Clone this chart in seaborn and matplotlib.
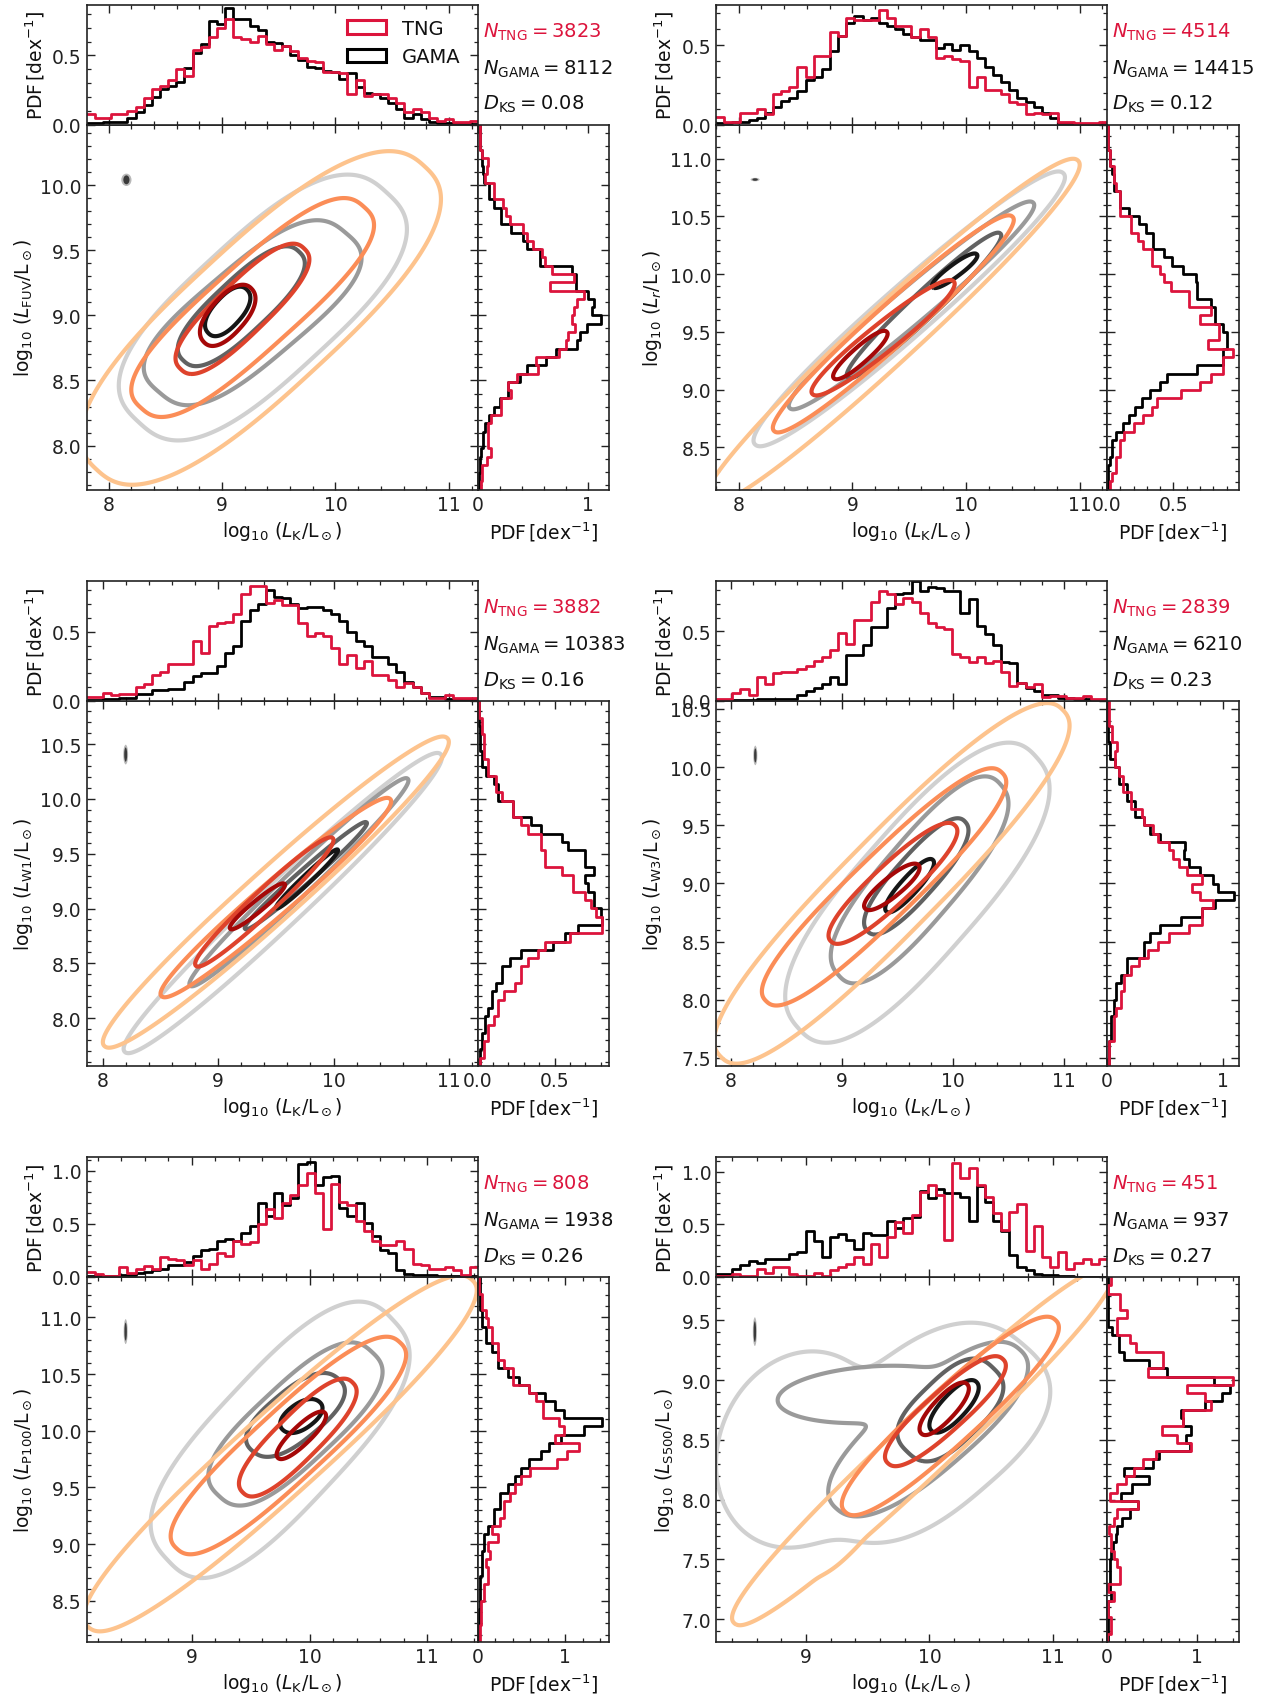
import numpy as np
import pandas as pd
import matplotlib
matplotlib.use("Agg")
import matplotlib.pyplot as plt
from matplotlib.patches import Ellipse, Patch
from matplotlib.ticker import MultipleLocator
import seaborn as sns

# ---------------------------------------------------------------- data
N_TNG = [3823, 4514, 3882, 2839, 808, 451]
N_GAMA = [8112, 14415, 10383, 6210, 1938, 937]
D_KS = ["0.08", "0.12", "0.16", "0.23", "0.26", "0.27"]
BANDS = [r"\rm FUV", r"r", r"\rm W1", r"\rm W3", r"\rm P100", r"\rm S500"]

# axis ranges (log10 L_K, log10 L_band) and PDF maxima
XLIMS = [(7.807, 11.254), (7.80, 11.24), (7.86, 11.25), (7.867, 11.387), (8.107, 11.428), (8.27, 11.44)]
YLIMS = [(7.662, 10.463), (8.134, 11.295), (7.563, 10.894), (7.43, 10.568), (8.136, 11.357), (6.81, 9.862)]
TOP_YMAX = [0.866, 0.754, 0.866, 0.863, 1.13, 1.14]
RIGHT_XMAX = [1.19, 0.99, 0.856, 1.133, 1.5, 1.456]
RIGHT_MAJOR = [1.0, 0.5, 0.5, 1.0, 1.0, 1.0]
RIGHT_MINOR = [0.2, 0.1, 0.1, 0.2, 0.2, 0.2]

# top histograms: PDF per bin, bins spanning the x range (low -> high L_K)
P1_TOP_GAMA = [0.01, 0.01, 0.02, 0.02, 0.02, 0.05, 0.09, 0.14, 0.2, 0.26, 0.28, 0.31, 0.41, 0.52, 0.58, 0.75, 0.73, 0.84, 0.76, 0.76, 0.71, 0.68, 0.6, 0.59, 0.57, 0.5, 0.47, 0.42, 0.41, 0.39, 0.38, 0.33, 0.37, 0.27, 0.23, 0.22, 0.19, 0.16, 0.11, 0.05, 0.08, 0.04, 0.02, 0.01, 0.01, 0.01, 0.005, 0.005]
P1_TOP_TNG = [0.08, 0.05, 0.05, 0.08, 0.08, 0.1, 0.13, 0.19, 0.26, 0.28, 0.32, 0.4, 0.35, 0.54, 0.56, 0.63, 0.7, 0.76, 0.63, 0.62, 0.6, 0.64, 0.58, 0.54, 0.57, 0.53, 0.48, 0.46, 0.45, 0.38, 0.38, 0.37, 0.22, 0.32, 0.21, 0.22, 0.22, 0.19, 0.16, 0.09, 0.11, 0.09, 0.05, 0.03, 0.04, 0.02, 0.02, 0.03]
P2_TOP_GAMA = [0.01, 0.01, 0.02, 0.02, 0.03, 0.04, 0.075, 0.11, 0.15, 0.17, 0.21, 0.28, 0.3, 0.35, 0.46, 0.56, 0.64, 0.68, 0.66, 0.67, 0.64, 0.62, 0.6, 0.57, 0.55, 0.53, 0.53, 0.48, 0.51, 0.47, 0.5, 0.46, 0.42, 0.36, 0.31, 0.27, 0.22, 0.17, 0.14, 0.11, 0.075, 0.04, 0.013, 0.013, 0.005, 0.005, 0.005, 0.005]
P2_TOP_TNG = [0.05, 0.02, 0.02, 0.075, 0.075, 0.1, 0.065, 0.19, 0.21, 0.24, 0.36, 0.3, 0.43, 0.43, 0.58, 0.56, 0.67, 0.66, 0.66, 0.66, 0.72, 0.67, 0.62, 0.62, 0.55, 0.6, 0.55, 0.42, 0.43, 0.41, 0.4, 0.24, 0.3, 0.22, 0.22, 0.19, 0.14, 0.13, 0.065, 0.075, 0.065, 0.075, 0.02, 0.02, 0.013, 0.013, 0.013, 0.02]
P3_TOP_GAMA = [0.005, 0.005, 0.013, 0.013, 0.025, 0.025, 0.05, 0.05, 0.076, 0.076, 0.09, 0.09, 0.14, 0.18, 0.2, 0.2, 0.25, 0.35, 0.4, 0.58, 0.66, 0.7, 0.8, 0.75, 0.74, 0.7, 0.67, 0.68, 0.68, 0.66, 0.63, 0.58, 0.5, 0.43, 0.4, 0.32, 0.32, 0.27, 0.21, 0.14, 0.1, 0.06, 0.03, 0.03, 0.015, 0.015, 0.008, 0.008]
P3_TOP_TNG = [0.03, 0.03, 0.055, 0.04, 0.05, 0.05, 0.1, 0.12, 0.19, 0.21, 0.27, 0.27, 0.27, 0.43, 0.35, 0.54, 0.56, 0.57, 0.63, 0.77, 0.83, 0.83, 0.71, 0.73, 0.69, 0.69, 0.56, 0.47, 0.49, 0.47, 0.38, 0.27, 0.33, 0.24, 0.29, 0.19, 0.19, 0.15, 0.1, 0.13, 0.1, 0.06, 0.025, 0.025, 0.04, 0.02, 0.02, 0.025]
P4_TOP_GAMA = [0.005, 0.005, 0.005, 0.005, 0.005, 0.016, 0.016, 0.016, 0.016, 0.016, 0.04, 0.07, 0.095, 0.12, 0.17, 0.12, 0.33, 0.33, 0.4, 0.53, 0.53, 0.67, 0.77, 0.78, 0.86, 0.79, 0.82, 0.81, 0.79, 0.79, 0.63, 0.73, 0.54, 0.48, 0.4, 0.28, 0.27, 0.13, 0.095, 0.07, 0.04, 0.04, 0.021, 0.021, 0.016, 0.016, 0.01, 0.01]
P4_TOP_TNG = [0.016, 0.016, 0.055, 0.087, 0.04, 0.17, 0.12, 0.2, 0.21, 0.21, 0.23, 0.25, 0.29, 0.32, 0.37, 0.49, 0.41, 0.58, 0.58, 0.71, 0.79, 0.77, 0.7, 0.74, 0.71, 0.63, 0.56, 0.53, 0.52, 0.34, 0.32, 0.28, 0.32, 0.27, 0.29, 0.21, 0.11, 0.13, 0.1, 0.12, 0.03, 0.037, 0.037, 0.021, 0.021, 0.034, 0.016, 0.016]
P5_TOP_GAMA = [0.01, 0.01, 0.01, 0.01, 0.018, 0.018, 0.033, 0.05, 0.064, 0.08, 0.11, 0.11, 0.14, 0.2, 0.25, 0.26, 0.34, 0.36, 0.34, 0.41, 0.48, 0.7, 0.57, 0.79, 0.68, 0.74, 1.06, 1.08, 0.87, 0.94, 0.95, 0.65, 0.57, 0.7, 0.51, 0.39, 0.25, 0.23, 0.07, 0.027, 0.018, 0.018, 0.018, 0.01, 0.01, 0.01, 0.01, 0.01]
P5_TOP_TNG = [0.05, 0.027, 0.01, 0.01, 0.09, 0.033, 0.08, 0.1, 0.08, 0.19, 0.17, 0.16, 0.11, 0.16, 0.08, 0.125, 0.23, 0.2, 0.34, 0.31, 0.33, 0.5, 0.64, 0.56, 0.7, 0.77, 0.87, 0.98, 0.79, 0.45, 0.88, 0.71, 0.68, 0.53, 0.43, 0.34, 0.3, 0.3, 0.34, 0.26, 0.125, 0.11, 0.08, 0.08, 0.09, 0.064, 0.018, 0.095]
P6_TOP_GAMA = [0.027, 0.027, 0.08, 0.11, 0.15, 0.13, 0.17, 0.17, 0.17, 0.22, 0.235, 0.44, 0.34, 0.19, 0.38, 0.41, 0.35, 0.27, 0.42, 0.4, 0.4, 0.53, 0.47, 0.56, 0.57, 0.82, 0.75, 0.84, 0.8, 0.8, 0.76, 0.53, 0.86, 0.71, 0.53, 0.44, 0.21, 0.095, 0.07, 0.027, 0.015, 0.015, 0.008, 0.008, 0.003, 0.003, 0.003, 0.003]
P6_TOP_TNG = [0.008, 0.008, 0.03, 0.008, 0.008, 0.08, 0.04, 0.095, 0.095, 0.03, 0.008, 0.008, 0.04, 0.008, 0.064, 0.095, 0.126, 0.19, 0.126, 0.31, 0.19, 0.38, 0.52, 0.42, 0.59, 0.81, 0.87, 0.78, 0.35, 1.08, 0.94, 1.04, 0.87, 0.76, 0.61, 0.45, 0.62, 0.69, 0.25, 0.48, 0.19, 0.095, 0.235, 0.08, 0.13, 0.17, 0.126, 0.17]

# right histograms: PDF per bin, listed from the top of the y range downwards
P1_RIGHT_GAMA = [0.02, 0.02, 0.02, 0.04, 0.04, 0.05, 0.06, 0.1, 0.1, 0.15, 0.21, 0.21, 0.3, 0.41, 0.45, 0.56, 0.56, 0.85, 0.89, 0.89, 1.0, 1.05, 1.03, 1.12, 0.99, 0.93, 0.9, 0.71, 0.62, 0.45, 0.38, 0.27, 0.27, 0.2, 0.15, 0.1, 0.07, 0.05, 0.05, 0.03, 0.02, 0.02, 0.01, 0.01]
P1_RIGHT_TNG = [0.02, 0.02, 0.02, 0.04, 0.09, 0.08, 0.07, 0.15, 0.15, 0.23, 0.26, 0.29, 0.41, 0.45, 0.5, 0.58, 0.61, 0.67, 0.87, 0.65, 0.96, 0.9, 0.87, 0.85, 0.88, 0.82, 0.8, 0.74, 0.53, 0.55, 0.36, 0.27, 0.3, 0.21, 0.21, 0.12, 0.09, 0.09, 0.09, 0.12, 0.08, 0.04, 0.04, 0.03]
P2_RIGHT_GAMA = [0.005, 0.005, 0.005, 0.025, 0.025, 0.04, 0.055, 0.055, 0.1, 0.1, 0.165, 0.24, 0.29, 0.35, 0.35, 0.43, 0.49, 0.57, 0.67, 0.68, 0.68, 0.78, 0.81, 0.81, 0.87, 0.9, 0.9, 0.87, 0.87, 0.68, 0.45, 0.4, 0.32, 0.26, 0.21, 0.165, 0.12, 0.07, 0.04, 0.04, 0.025, 0.01, 0.01, 0.01]
P2_RIGHT_TNG = [0.01, 0.01, 0.01, 0.025, 0.025, 0.055, 0.055, 0.07, 0.1, 0.1, 0.1, 0.18, 0.18, 0.23, 0.27, 0.34, 0.34, 0.4, 0.43, 0.48, 0.62, 0.62, 0.78, 0.7, 0.84, 0.84, 0.76, 0.95, 0.87, 0.87, 0.78, 0.7, 0.56, 0.38, 0.34, 0.27, 0.2, 0.13, 0.1, 0.1, 0.07, 0.07, 0.04, 0.025]
P3_RIGHT_GAMA = [0.008, 0.008, 0.008, 0.013, 0.013, 0.013, 0.027, 0.027, 0.053, 0.106, 0.13, 0.13, 0.23, 0.23, 0.35, 0.41, 0.55, 0.59, 0.7, 0.7, 0.76, 0.7, 0.72, 0.76, 0.76, 0.8, 0.81, 0.65, 0.57, 0.49, 0.28, 0.21, 0.16, 0.16, 0.12, 0.093, 0.093, 0.066, 0.045, 0.045, 0.027, 0.027, 0.013, 0.013]
P3_RIGHT_TNG = [0.008, 0.008, 0.027, 0.027, 0.04, 0.04, 0.04, 0.066, 0.066, 0.12, 0.12, 0.16, 0.23, 0.23, 0.28, 0.33, 0.41, 0.41, 0.44, 0.44, 0.55, 0.62, 0.62, 0.7, 0.74, 0.77, 0.81, 0.81, 0.6, 0.44, 0.39, 0.33, 0.28, 0.28, 0.24, 0.17, 0.13, 0.13, 0.106, 0.066, 0.066, 0.04, 0.04, 0.013]
P4_RIGHT_GAMA = [0.01, 0.01, 0.01, 0.01, 0.01, 0.03, 0.03, 0.065, 0.1, 0.1, 0.17, 0.17, 0.24, 0.24, 0.32, 0.37, 0.46, 0.67, 0.66, 0.71, 0.8, 0.91, 0.96, 1.09, 0.93, 0.82, 0.64, 0.46, 0.37, 0.32, 0.32, 0.17, 0.17, 0.12, 0.08, 0.08, 0.057, 0.057, 0.036, 0.036, 0.036, 0.014, 0.014, 0.014]
P4_RIGHT_TNG = [0.014, 0.014, 0.014, 0.047, 0.047, 0.09, 0.065, 0.065, 0.1, 0.136, 0.136, 0.21, 0.21, 0.3, 0.32, 0.4, 0.44, 0.53, 0.57, 0.62, 0.69, 0.82, 0.73, 0.8, 0.91, 0.82, 0.82, 0.71, 0.53, 0.44, 0.35, 0.28, 0.21, 0.15, 0.15, 0.12, 0.12, 0.08, 0.057, 0.057, 0.057, 0.02, 0.02, 0.02]
P5_RIGHT_GAMA = [0.023, 0.023, 0.023, 0.023, 0.047, 0.047, 0.093, 0.093, 0.16, 0.23, 0.23, 0.35, 0.47, 0.58, 0.77, 0.88, 0.98, 1.42, 1.21, 0.95, 0.81, 0.72, 0.58, 0.49, 0.42, 0.35, 0.26, 0.26, 0.19, 0.19, 0.12, 0.07, 0.07, 0.047, 0.047, 0.047, 0.023, 0.023, 0.023, 0.023, 0.014, 0.014, 0.014, 0.014]
P5_RIGHT_TNG = [0.014, 0.014, 0.047, 0.047, 0.093, 0.12, 0.16, 0.16, 0.23, 0.23, 0.3, 0.4, 0.4, 0.58, 0.67, 0.74, 0.74, 0.93, 0.98, 0.88, 1.16, 1.02, 0.91, 0.6, 0.49, 0.42, 0.37, 0.3, 0.3, 0.26, 0.16, 0.23, 0.12, 0.14, 0.093, 0.12, 0.12, 0.07, 0.07, 0.037, 0.037, 0.037, 0.023, 0.023]
P6_RIGHT_GAMA = [0.011, 0.011, 0.011, 0.011, 0.011, 0.011, 0.06, 0.134, 0.134, 0.19, 0.47, 0.66, 1.18, 1.36, 1.27, 1.08, 0.82, 0.84, 0.93, 0.88, 0.92, 0.58, 0.51, 0.19, 0.47, 0.28, 0.15, 0.34, 0.26, 0.17, 0.115, 0.097, 0.07, 0.048, 0.034, 0.034, 0.034, 0.034, 0.04, 0.011, 0.011, 0.011, 0.011, 0.011]
P6_RIGHT_TNG = [0.04, 0.011, 0.145, 0.145, 0.22, 0.115, 0.115, 0.26, 0.32, 0.62, 0.62, 0.45, 1.4, 0.89, 1.08, 1.15, 0.84, 0.84, 0.61, 0.77, 0.935, 0.54, 0.4, 0.3, 0.21, 0.108, 0.034, 0.34, 0.108, 0.078, 0.022, 0.048, 0.048, 0.078, 0.108, 0.145, 0.145, 0.011, 0.078, 0.011, 0.011, 0.04, 0.04, 0.004]

# density contours, read as
# (level, x centre, y centre, x half-extent, y half-extent, tilt/correlation, squareness)
# level 0 = outermost ... 3 = innermost; several entries at one level form one outline
P1_GAMA_CONT = [(0, 9.36, 9.06, 1.27, 1.02, 0.70, 2.8), (1, 9.27, 9.02, 0.96, 0.71, 0.72, 3.0), (2, 9.17, 9.07, 0.56, 0.46, 0.80, 2.6), (3, 9.05, 9.03, 0.20, 0.19, 0.60, 2.3)]
P1_TNG_CONT = [(0, 9.34, 8.98, 1.59, 1.28, 0.80, 2.6), (1, 9.27, 9.06, 1.07, 0.84, 0.85, 2.8), (2, 9.18, 9.05, 0.59, 0.50, 0.84, 2.6), (3, 9.05, 9.00, 0.245, 0.235, 0.60, 2.3)]
P2_GAMA_CONT = [(0, 9.50, 9.70, 1.37, 1.19, 0.97, 2.2), (1, 9.52, 9.73, 1.08, 0.90, 0.975, 2.2), (2, 9.63, 9.73, 0.68, 0.63, 0.97, 2.2), (3, 9.90, 10.03, 0.20, 0.15, 0.90, 2.2)]
P2_TNG_CONT = [(0, 9.35, 9.50, 1.65, 1.50, 0.975, 2.2), (1, 9.36, 9.57, 1.06, 0.94, 0.97, 2.2), (2, 9.27, 9.45, 0.63, 0.50, 0.95, 2.2), (3, 9.07, 9.30, 0.24, 0.21, 0.90, 2.2)]
P3_GAMA_CONT = [(0, 9.56, 9.05, 1.38, 1.37, 0.98, 2.2), (1, 9.70, 9.24, 0.95, 0.95, 0.985, 2.2), (2, 9.76, 9.30, 0.53, 0.49, 0.985, 2.2), (3, 9.77, 9.27, 0.27, 0.27, 0.98, 2.2)]
P3_TNG_CONT = [(0, 9.50, 9.15, 1.50, 1.42, 0.975, 2.2), (1, 9.50, 9.10, 1.00, 0.91, 0.975, 2.2), (2, 9.40, 9.06, 0.60, 0.59, 0.97, 2.2), (3, 9.34, 9.02, 0.24, 0.21, 0.95, 2.2)]
P4_GAMA_CONT = [(0, 9.68, 8.92, 1.19, 1.29, 0.78, 2.6), (1, 9.70, 9.03, 0.80, 0.89, 0.82, 2.6), (2, 9.67, 9.06, 0.47, 0.50, 0.85, 2.4), (3, 9.61, 8.98, 0.22, 0.23, 0.88, 2.2)]
P4_TNG_CONT = [(0, 9.45, 9.00, 1.60, 1.55, 0.925, 2.5), (1, 9.38, 8.97, 1.10, 1.02, 0.93, 2.5), (2, 9.46, 9.00, 0.58, 0.52, 0.90, 2.3), (3, 9.45, 8.97, 0.25, 0.20, 0.85, 2.2)]
P5_GAMA_CONT = [(0, 9.75, 9.92, 1.10, 1.22, 0.72, 2.8), (1, 9.88, 10.06, 0.74, 0.72, 0.75, 2.8), (2, 9.88, 10.14, 0.42, 0.37, 0.65, 2.5), (3, 9.93, 10.13, 0.18, 0.15, 0.50, 2.2)]
P5_TNG_CONT = [(0, 9.75, 9.80, 1.67, 1.57, 0.95, 2.4), (1, 9.82, 9.87, 1.00, 0.96, 0.90, 2.6), (2, 9.90, 9.94, 0.50, 0.52, 0.85, 2.5), (3, 9.93, 9.96, 0.21, 0.21, 0.85, 2.2)]
P6_GAMA_CONT = [(0, 9.95, 8.56, 1.03, 0.92, 0.45, 2.6), (0, 8.95, 8.42, 0.68, 0.82, 0.15, 2.0),
                (1, 9.99, 8.59, 0.81, 0.73, 0.78, 2.4), (1, 9.55, 8.88, 0.78, 0.24, 0.20, 2.0),
                (2, 10.17, 8.75, 0.43, 0.43, 0.55, 2.8), (3, 10.20, 8.78, 0.20, 0.22, 0.75, 2.2)]
P6_TNG_CONT = [(0, 9.95, 8.45, 1.55, 1.50, 0.975, 2.3), (0, 9.28, 7.58, 0.19, 0.19, 0.85, 2.2),
               (1, 10.17, 8.70, 0.88, 0.83, 0.93, 2.4), (2, 10.13, 8.74, 0.49, 0.46, 0.88, 2.4), (3, 10.12, 8.76, 0.20, 0.22, 0.80, 2.2)]

# typical uncertainty ellipse per panel: centre x, centre y, full width, full height
ERR_X = [8.157, 8.144, 8.198, 8.221, 8.438, 8.585]
ERR_Y = [10.04, 10.82, 10.405, 10.10, 10.875, 9.405]
ERR_W = [0.09, 0.079, 0.042, 0.037, 0.034, 0.033]
ERR_H = [0.095, 0.03, 0.18, 0.168, 0.22, 0.24]

TOP_GAMA = [P1_TOP_GAMA, P2_TOP_GAMA, P3_TOP_GAMA, P4_TOP_GAMA, P5_TOP_GAMA, P6_TOP_GAMA]
TOP_TNG = [P1_TOP_TNG, P2_TOP_TNG, P3_TOP_TNG, P4_TOP_TNG, P5_TOP_TNG, P6_TOP_TNG]
RIGHT_GAMA = [P1_RIGHT_GAMA, P2_RIGHT_GAMA, P3_RIGHT_GAMA, P4_RIGHT_GAMA, P5_RIGHT_GAMA, P6_RIGHT_GAMA]
RIGHT_TNG = [P1_RIGHT_TNG, P2_RIGHT_TNG, P3_RIGHT_TNG, P4_RIGHT_TNG, P5_RIGHT_TNG, P6_RIGHT_TNG]
CONT_GAMA = [P1_GAMA_CONT, P2_GAMA_CONT, P3_GAMA_CONT, P4_GAMA_CONT, P5_GAMA_CONT, P6_GAMA_CONT]
CONT_TNG = [P1_TNG_CONT, P2_TNG_CONT, P3_TNG_CONT, P4_TNG_CONT, P5_TNG_CONT, P6_TNG_CONT]

# ---------------------------------------------------------------- style
TNG_COLOR = "#dc143c"
GAMA_COLOR = "black"
TNG_LEVEL_COLORS = ["#fdc38d", "#fb8d57", "#de432c", "#a50808"]
GAMA_LEVEL_COLORS = ["#d0d0d0", "#9a9a9a", "#626262", "#161616"]

sns.set_theme(style="ticks")
plt.rcParams["font.family"] = ["DejaVu Sans"]
plt.rcParams.update({
    "mathtext.fontset": "dejavusans",
    "xtick.direction": "in", "ytick.direction": "in",
    "xtick.top": True, "ytick.right": True,
    "xtick.minor.visible": True, "ytick.minor.visible": True,
    "xtick.major.size": 5.5, "ytick.major.size": 5.5,
    "xtick.minor.size": 3.0, "ytick.minor.size": 3.0,
    "xtick.major.width": 1.0, "ytick.major.width": 1.0,
    "xtick.minor.width": 0.9, "ytick.minor.width": 0.9,
    "xtick.color": "#222222", "ytick.color": "#222222",
    "axes.edgecolor": "#222222", "axes.linewidth": 1.2,
    "xtick.labelsize": 13.5, "ytick.labelsize": 13.5,
    "axes.labelsize": 13.5, "text.color": "#111111", "axes.labelcolor": "#111111",
})

W, H = 1276, 1699
fig = plt.figure(figsize=(W / 100, H / 100), dpi=100)

COL_LEFT = [86.7, 716.0]
MAIN_BOTTOM = [490.7, 1067.0, 1643.0]
MAIN_W, MAIN_H, TOP_H, RIGHT_W = 391.0, 365.0, 120.0, 131.5
SOFT_UNION = 0.25

PDF_LABEL = r"PDF$\,[\mathrm{dex}^{-1}]$"
XLABEL = r"$\log_{10}\,(L_{\rm K}/{\rm L}_\odot)$"


def outline_field(X, Y, cx, cy, hx, hy, r, p):
    """Rounded outline whose bounding box is cx +- hx, cy +- hy."""
    a, b = np.sqrt(1 + r), np.sqrt(1 - r)
    th = np.linspace(0, 2 * np.pi, 4001)
    c, s_ = np.cos(th), np.sin(th)
    ss = a * np.sign(c) * np.abs(c) ** (2.0 / p)
    tt = b * np.sign(s_) * np.abs(s_) ** (2.0 / p)
    k = np.max((ss - tt) / np.sqrt(2))
    u = (X - cx) / hx * k
    v = (Y - cy) / hy * k
    S = (u + v) / np.sqrt(2)
    T = (v - u) / np.sqrt(2)
    return (np.abs(S) / a) ** p + (np.abs(T) / b) ** p


def draw_contours(ax, pieces, colors, xlim, ylim):
    xs = np.linspace(xlim[0] - 0.6, xlim[1] + 0.6, 560)
    ys = np.linspace(ylim[0] - 0.6, ylim[1] + 0.6, 560)
    X, Y = np.meshgrid(xs, ys)
    for lev in range(4):
        fields = [outline_field(X, Y, cx, cy, hx, hy, r, p)
                  for (l, cx, cy, hx, hy, r, p) in pieces if l == lev]
        if len(fields) == 1:
            F = fields[0]
        else:
            st = np.array(fields)
            m = st.min(axis=0)
            F = m - SOFT_UNION * np.log(np.exp(-(st - m) / SOFT_UNION).sum(axis=0))
        ax.contour(X, Y, F, levels=[1.0], colors=[colors[lev]], linewidths=3.0)


def hist_top(ax, vals, xlim, color):
    vals = np.asarray(vals, dtype=float)
    edges = np.linspace(xlim[0], xlim[1], len(vals) + 1)
    df = pd.DataFrame({"v": 0.5 * (edges[1:] + edges[:-1]), "w": vals})
    sns.histplot(data=df, x="v", weights="w", bins=len(vals), binrange=xlim,
                 element="step", fill=False, color=color, linewidth=2.0, ax=ax)


def hist_right(ax, vals_top_down, ylim, color):
    vals = np.asarray(vals_top_down, dtype=float)[::-1]
    edges = np.linspace(ylim[0], ylim[1], len(vals) + 1)
    df = pd.DataFrame({"v": 0.5 * (edges[1:] + edges[:-1]), "w": vals})
    sns.histplot(data=df, y="v", weights="w", bins=len(vals), binrange=ylim,
                 element="step", fill=False, color=color, linewidth=2.0, ax=ax)


for i in range(6):
    r, c = divmod(i, 2)
    left = COL_LEFT[c] / W
    bottom = 1 - MAIN_BOTTOM[r] / H
    ax = fig.add_axes([left, bottom, MAIN_W / W, MAIN_H / H])
    axt = fig.add_axes([left, bottom + MAIN_H / H, MAIN_W / W, TOP_H / H])
    axr = fig.add_axes([left + MAIN_W / W, bottom, RIGHT_W / W, MAIN_H / H])
    xlim, ylim = XLIMS[i], YLIMS[i]

    # main panel
    draw_contours(ax, CONT_GAMA[i], GAMA_LEVEL_COLORS, xlim, ylim)
    draw_contours(ax, CONT_TNG[i], TNG_LEVEL_COLORS, xlim, ylim)
    ax.add_patch(Ellipse((ERR_X[i], ERR_Y[i]), ERR_W[i], ERR_H[i], facecolor="#b8b8b8",
                         edgecolor="none", zorder=5))
    ax.add_patch(Ellipse((ERR_X[i], ERR_Y[i]), ERR_W[i] * 0.6, ERR_H[i] * 0.72,
                         facecolor="#3a3a3a", edgecolor="none", zorder=6))
    ax.set_xlim(*xlim)
    ax.set_ylim(*ylim)
    ax.xaxis.set_major_locator(MultipleLocator(1.0))
    ax.xaxis.set_minor_locator(MultipleLocator(0.2))
    ax.yaxis.set_major_locator(MultipleLocator(0.5))
    ax.yaxis.set_minor_locator(MultipleLocator(0.1))
    ax.set_xlabel(XLABEL)
    ax.set_ylabel(r"$\log_{10}\,(L_{%s}/{\rm L}_\odot)$" % BANDS[i])

    # top marginal
    hist_top(axt, TOP_GAMA[i], xlim, GAMA_COLOR)
    hist_top(axt, TOP_TNG[i], xlim, TNG_COLOR)
    axt.set_xlim(*xlim)
    axt.set_ylim(0, TOP_YMAX[i])
    axt.xaxis.set_major_locator(MultipleLocator(1.0))
    axt.xaxis.set_minor_locator(MultipleLocator(0.2))
    axt.yaxis.set_major_locator(MultipleLocator(0.5))
    axt.yaxis.set_minor_locator(MultipleLocator(0.1))
    axt.tick_params(labelbottom=False)
    axt.set_xlabel("")
    axt.set_ylabel(PDF_LABEL)

    # right marginal
    hist_right(axr, RIGHT_GAMA[i], ylim, GAMA_COLOR)
    hist_right(axr, RIGHT_TNG[i], ylim, TNG_COLOR)
    axr.set_ylim(*ylim)
    axr.set_xlim(0, RIGHT_XMAX[i])
    axr.xaxis.set_major_locator(MultipleLocator(RIGHT_MAJOR[i]))
    axr.xaxis.set_minor_locator(MultipleLocator(RIGHT_MINOR[i]))
    axr.yaxis.set_major_locator(MultipleLocator(0.5))
    axr.yaxis.set_minor_locator(MultipleLocator(0.1))
    axr.tick_params(labelleft=False)
    axr.set_ylabel("")
    axr.set_xlabel(PDF_LABEL)

    # statistics
    axt.text(1.013, 0.733, r"$N_{\rm TNG} = %d$" % N_TNG[i], color=TNG_COLOR,
             transform=axt.transAxes, fontsize=14, va="baseline", ha="left")
    axt.text(1.013, 0.427, r"$N_{\rm GAMA} = %d$" % N_GAMA[i], color="#111111",
             transform=axt.transAxes, fontsize=14, va="baseline", ha="left")
    axt.text(1.013, 0.13, r"$D_{\rm KS} = %s$" % D_KS[i], color="#111111",
             transform=axt.transAxes, fontsize=14, va="baseline", ha="left")

    if i == 0:
        handles = [Patch(facecolor="none", edgecolor=TNG_COLOR, linewidth=2.2, label="TNG"),
                   Patch(facecolor="none", edgecolor=GAMA_COLOR, linewidth=2.2, label="GAMA")]
        axt.legend(handles=handles, loc="upper right", frameon=False, fontsize=14,
                   bbox_to_anchor=(1.0, 1.03))

    fig.align_ylabels([ax, axt])
    fig.align_xlabels([ax, axr])

fig.savefig("out.png", dpi=100)
